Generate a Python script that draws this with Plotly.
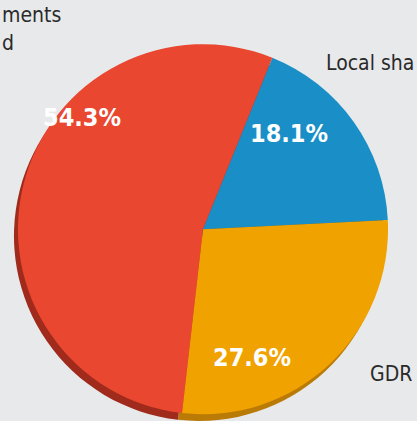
import plotly.graph_objects as go

labels = ["Local shares", "GDR", "Foreign investments"]
values = [18.1, 27.6, 54.3]
face_colors = ["#1a8fc7", "#f0a200", "#e9472f"]
rim_colors = ["#0f5f88", "#b97a06", "#a02b1c"]
# label fragments as they are visible in the (cropped) picture
visible_text = ["Local sha", "GDR", "ments", "d"]

W, H = 417, 421
FONT = "DejaVu Sans Condensed, Liberation Sans Narrow, sans-serif"

fig = go.Figure()
# darker copy underneath for the pie's thickness
fig.add_trace(go.Pie(
    labels=labels, values=values, sort=False, direction="clockwise", rotation=22,
    marker=dict(colors=rim_colors, line=dict(width=0)),
    textinfo="none", hoverinfo="skip", showlegend=False,
    domain=dict(x=[0.0216, 0.9328], y=[0.0, 0.879]),
))
fig.add_trace(go.Pie(
    labels=labels, values=values, sort=False, direction="clockwise", rotation=22,
    marker=dict(colors=face_colors, line=dict(width=0)),
    textinfo="none", showlegend=False,
    domain=dict(x=[0.0312, 0.9424], y=[0.016, 0.895]),
))

# percentage labels
pct_pos = [(0.694, 0.684), (0.604, 0.152), (0.197, 0.722)]
for v, (x, y) in zip(values, pct_pos):
    fig.add_annotation(x=x, y=y, xref="paper", yref="paper", text=f"{v}%",
                       xanchor="center", yanchor="middle", showarrow=False,
                       font=dict(family=FONT, size=25, color="white", weight="bold"))

lab_font = dict(family=FONT, size=21, color="#2a2a2a")
fig.add_annotation(x=0.997, y=0.850, xref="paper", yref="paper", text=visible_text[0],
                   xanchor="right", yanchor="middle", showarrow=False, font=lab_font)
fig.add_annotation(x=0.992, y=0.112, xref="paper", yref="paper", text=visible_text[1],
                   xanchor="right", yanchor="middle", showarrow=False, font=lab_font)
fig.add_annotation(x=0.0, y=0.965, xref="paper", yref="paper", text=visible_text[2],
                   xanchor="left", yanchor="middle", showarrow=False, font=lab_font)
fig.add_annotation(x=0.0, y=0.898, xref="paper", yref="paper", text=visible_text[3],
                   xanchor="left", yanchor="middle", showarrow=False, font=lab_font)

fig.update_layout(
    width=W, height=H, margin=dict(l=0, r=0, t=0, b=0),
    paper_bgcolor="#e8e9eb", plot_bgcolor="#e8e9eb",
)
fig.write_html("out.html")
